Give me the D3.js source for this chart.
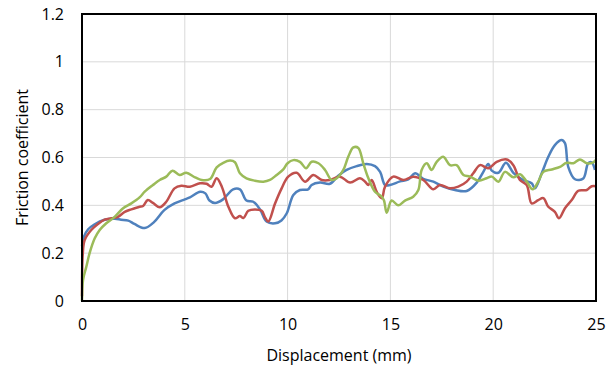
<!DOCTYPE html>
<html>
  <head>
    <meta charset="utf-8">
    <style>
    body {
      margin: 0;
      background: #fff;
    }
    text {
      font-family: "Open Sans", "Noto Sans", sans-serif;
      fill: #000;
    }
    </style>
  </head>
  <body>
    <div id="chart"></div>
    <script src="https://d3js.org/d3.v7.min.js"></script>
    <script>

// displacement (mm), friction coefficient
var blueSeries = [
  [0,0.23],[0.1,0.27],[0.3,0.30],[0.6,0.32],[1.1,0.34],[1.6,0.344],[1.9,0.34],[2.25,0.336],
  [2.55,0.322],[3.05,0.305],[3.5,0.33],[4.0,0.38],[4.5,0.408],[5.0,0.425],[5.25,0.433],
  [5.75,0.457],[6.0,0.45],[6.2,0.42],[6.47,0.41],[6.86,0.425],[7.35,0.467],[7.68,0.467],
  [8.0,0.42],[8.33,0.415],[8.66,0.383],[8.98,0.332],[9.39,0.325],[9.7,0.337],[9.96,0.367],
  [10.28,0.443],[10.6,0.464],[11.0,0.467],[11.17,0.485],[11.58,0.495],[12.06,0.49],
  [12.45,0.523],[12.87,0.548],[13.36,0.564],[13.85,0.573],[14.25,0.564],[14.5,0.54],
  [14.74,0.485],[14.98,0.485],[15.47,0.50],[15.87,0.508],[16.2,0.534],[16.6,0.511],
  [17.09,0.499],[17.57,0.478],[18.14,0.464],[18.71,0.46],[19.2,0.495],[19.52,0.54],
  [19.76,0.573],[19.93,0.545],[20.25,0.536],[20.62,0.578],[20.98,0.536],[21.46,0.506],
  [21.87,0.492],[22.03,0.471],[22.36,0.534],[22.68,0.603],[23.0,0.652],[23.33,0.673],
  [23.49,0.66],[23.65,0.561],[23.98,0.509],[24.38,0.512],[24.62,0.576],[24.79,0.58],[24.95,0.548]
];

var redSeries = [
  [0,0.02],[0.04,0.2],[0.13,0.255],[0.45,0.297],[0.78,0.322],[1.1,0.34],[1.43,0.346],
  [1.75,0.352],[2.08,0.373],[2.4,0.383],[2.8,0.394],[2.97,0.397],[3.2,0.422],[3.45,0.41],
  [3.78,0.392],[4.1,0.415],[4.5,0.471],[4.83,0.482],[5.25,0.478],[5.74,0.492],[6.06,0.49],
  [6.3,0.478],[6.55,0.513],[6.8,0.478],[7.12,0.394],[7.44,0.346],[7.68,0.355],[7.85,0.347],
  [8.09,0.377],[8.41,0.383],[8.74,0.377],[8.9,0.35],[9.06,0.332],[9.39,0.408],[9.71,0.471],
  [10.03,0.52],[10.44,0.536],[10.85,0.499],[11.25,0.527],[11.66,0.506],[12.06,0.506],
  [12.55,0.52],[13.04,0.495],[13.52,0.513],[13.76,0.50],[13.93,0.485],[14.09,0.506],
  [14.33,0.457],[14.58,0.43],[14.74,0.478],[15.14,0.52],[15.63,0.506],[16.11,0.52],
  [16.6,0.506],[17.09,0.467],[17.41,0.485],[17.9,0.471],[18.3,0.478],[18.71,0.499],
  [19.03,0.534],[19.36,0.568],[19.76,0.555],[20.17,0.582],[20.66,0.592],[20.98,0.568],
  [21.3,0.506],[21.63,0.485],[21.87,0.408],[22.19,0.422],[22.44,0.43],[22.68,0.394],
  [23.0,0.373],[23.2,0.346],[23.49,0.388],[23.82,0.422],[24.14,0.461],[24.55,0.464],
  [24.79,0.48],[25,0.48]
];

var greenSeries = [
  [0,0],[0.05,0.088],[0.21,0.143],[0.37,0.2],[0.62,0.262],[0.86,0.297],[1.18,0.325],
  [1.59,0.352],[2.0,0.388],[2.4,0.408],[2.8,0.433],[3.05,0.457],[3.45,0.485],[3.78,0.506],
  [4.1,0.52],[4.4,0.545],[4.75,0.527],[5.07,0.536],[5.5,0.517],[5.82,0.506],[6.23,0.51],
  [6.55,0.559],[6.87,0.578],[7.2,0.587],[7.44,0.58],[7.68,0.534],[8.0,0.513],[8.41,0.503],
  [8.82,0.499],[9.14,0.506],[9.47,0.527],[9.79,0.55],[10.0,0.576],[10.28,0.589],[10.6,0.582],
  [10.9,0.555],[11.17,0.582],[11.5,0.576],[11.82,0.548],[12.14,0.506],[12.39,0.513],
  [12.71,0.548],[12.95,0.603],[13.2,0.642],[13.44,0.64],[13.68,0.576],[13.93,0.513],
  [14.25,0.457],[14.58,0.436],[14.69,0.42],[14.82,0.369],[15.06,0.42],[15.38,0.40],
  [15.71,0.42],[16.11,0.436],[16.36,0.464],[16.52,0.548],[16.77,0.576],[17.0,0.548],
  [17.25,0.582],[17.57,0.603],[17.9,0.568],[18.22,0.568],[18.55,0.527],[18.87,0.52],
  [19.28,0.503],[19.68,0.513],[19.93,0.52],[20.25,0.499],[20.57,0.54],[20.98,0.517],
  [21.3,0.53],[21.63,0.499],[21.92,0.467],[22.19,0.499],[22.44,0.54],[22.85,0.55],
  [23.25,0.561],[23.57,0.578],[23.9,0.576],[24.22,0.592],[24.55,0.576],[24.87,0.58],[25,0.59]
];

var xTicks = [0, 5, 10, 15, 20, 25];
var yTicks = [0, 0.2, 0.4, 0.6, 0.8, 1, 1.2];

var series = [
  {data: blueSeries, colour: "#4F81BD"},
  {data: redSeries, colour: "#C0504D"},
  {data: greenSeries, colour: "#9BBB59"}
];

var width = 612, height = 369;
var margin = {top: 14, right: 16, bottom: 68, left: 82};
var innerW = width - margin.left - margin.right,
    innerH = height - margin.top - margin.bottom;
var fontSize = "16px";

var svg = d3.select("#chart").append("svg")
    .attr("width", width)
    .attr("height", height);

var x = d3.scaleLinear().domain([0, 25]).range([margin.left, margin.left + innerW]);
var y = d3.scaleLinear().domain([0, 1.2]).range([margin.top + innerH, margin.top]);

// gridlines
svg.append("g")
    .selectAll("line")
    .data(yTicks.slice(1, -1))
  .enter().append("line")
    .attr("x1", x(0)).attr("x2", x(25))
    .attr("y1", d => y(d)).attr("y2", d => y(d))
    .style("stroke", "#d9d9d9")
    .style("stroke-width", 1);

svg.append("g")
    .selectAll("line")
    .data(xTicks.slice(1, -1))
  .enter().append("line")
    .attr("x1", d => x(d)).attr("x2", d => x(d))
    .attr("y1", y(0)).attr("y2", y(1.2))
    .style("stroke", "#d9d9d9")
    .style("stroke-width", 1);

// axes (labels only, Excel style)
var xAxis = svg.append("g")
    .attr("transform", "translate(0," + y(0) + ")")
    .call(d3.axisBottom(x).tickValues(xTicks).tickSize(0).tickPadding(18).tickFormat(d3.format("d")));
var yAxis = svg.append("g")
    .attr("transform", "translate(" + x(0) + ",0)")
    .call(d3.axisLeft(y).tickValues(yTicks).tickSize(0).tickPadding(18).tickFormat(d => d3.format("")(+d.toFixed(1))));

[xAxis, yAxis].forEach(function(a) {
  a.select(".domain").remove();
  a.selectAll("text")
    .style("font-family", '"Open Sans", "Noto Sans", sans-serif')
    .style("font-size", fontSize)
    .style("fill", "#000");
});

var line = d3.line()
    .x(d => x(d[0]))
    .y(d => y(d[1]))
    .curve(d3.curveCatmullRom.alpha(0.5));

svg.append("g")
    .selectAll("path")
    .data(series)
  .enter().append("path")
    .attr("d", d => line(d.data))
    .style("fill", "none")
    .style("stroke", d => d.colour)
    .style("stroke-width", 2.5)
    .style("stroke-linejoin", "round");

// plot frame
svg.append("rect")
    .attr("x", x(0))
    .attr("y", y(1.2))
    .attr("width", x(25) - x(0))
    .attr("height", y(0) - y(1.2))
    .style("fill", "none")
    .style("stroke", "#000")
    .style("stroke-width", 2);

// axis titles
svg.append("text")
    .attr("x", (x(0) + x(25)) / 2)
    .attr("y", 361)
    .attr("text-anchor", "middle")
    .style("font-size", fontSize)
    .text("Displacement (mm)");

svg.append("text")
    .attr("transform", "translate(28," + ((y(0) + y(1.2)) / 2) + ") rotate(-90)")
    .attr("text-anchor", "middle")
    .style("font-size", fontSize)
    .text("Friction coefficient");

    </script>
  </body>
</html>
